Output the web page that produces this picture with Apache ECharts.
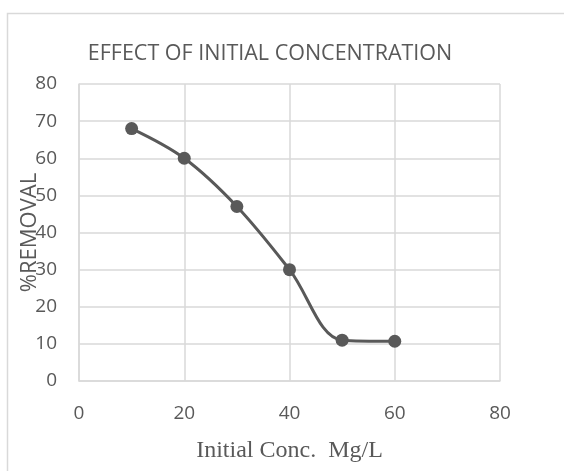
<!DOCTYPE html>
<html>
<head>
<meta charset="utf-8">
<script src="https://cdn.jsdelivr.net/npm/echarts@6/dist/echarts.min.js"></script>
<style>
  html, body { margin: 0; padding: 0; background: #fff; }
  #chart { width: 564px; height: 471px; }
</style>
</head>
<body>
<div id="chart"></div>
<script>
// data
const concentrations = [10, 20, 30, 40, 50, 60];
const removal = [68, 60, 47, 30, 11, 10.7];
const xTicks = [0, 20, 40, 60, 80];
const yTicks = [0, 10, 20, 30, 40, 50, 60, 70, 80];

const chart = echarts.init(document.getElementById('chart'));

const textGray = '#595959';
const gridGray = '#d9d9d9';

chart.setOption({
    animation: false,
    title: {
        text: 'EFFECT OF INITIAL CONCENTRATION',
        left: 265,
        top: 38,
        textAlign: 'center',
        textStyle: {
            fontFamily: 'Open Sans',
            fontWeight: 'normal',
            fontSize: 21.5,
            color: textGray,
        },
    },
    graphic: [
        {
            type: 'rect',
            shape: { x: 7.5, y: 13.5, width: 600, height: 500 },
            style: { fill: 'none', stroke: gridGray, lineWidth: 1.5 },
            silent: true,
        },
    ],
    grid: {
        left: 79,
        right: 64,
        top: 84,
        bottom: 90,
        containLabel: false,
        outerBoundsMode: 'none',
    },
    xAxis: {
        type: 'value',
        min: xTicks[0],
        max: xTicks[xTicks.length - 1],
        interval: 20,
        name: 'Initial Conc.  Mg/L',
        nameLocation: 'middle',
        nameGap: 58,
        nameMoveOverlap: false,
        nameTextStyle: {
            fontFamily: 'Liberation Serif',
            fontSize: 24,
            color: textGray,
        },
        axisLine: { show: true, lineStyle: { color: gridGray, width: 1.5 } },
        axisTick: { show: false },
        axisLabel: {
            margin: 23,
            fontFamily: 'Open Sans',
            fontSize: 19,
            color: textGray,
        },
        splitLine: { show: true, lineStyle: { color: gridGray, width: 1.5 } },
    },
    yAxis: {
        type: 'value',
        min: yTicks[0],
        max: yTicks[yTicks.length - 1],
        interval: 10,
        name: '%REMOVAL',
        nameLocation: 'middle',
        nameGap: 38,
        nameRotate: 90,
        nameMoveOverlap: false,
        nameTextStyle: {
            fontFamily: 'Open Sans',
            fontSize: 22,
            color: textGray,
        },
        axisLine: { show: true, lineStyle: { color: gridGray, width: 1.5 } },
        axisTick: { show: false },
        axisLabel: {
            margin: 22,
            fontFamily: 'Open Sans',
            fontSize: 19,
            color: textGray,
        },
        splitLine: { show: true, lineStyle: { color: gridGray, width: 1.5 } },
    },
    series: [
        {
            type: 'line',
            data: concentrations.map((c, i) => [c, removal[i]]),
            smooth: 0.35,
            symbol: 'circle',
            symbolSize: 13,
            itemStyle: { color: textGray },
            lineStyle: { color: textGray, width: 3 },
        },
    ],
});
</script>
</body>
</html>
